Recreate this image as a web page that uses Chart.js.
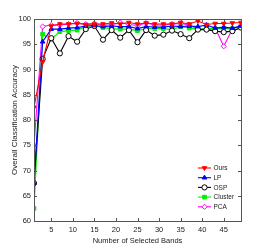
<!DOCTYPE html>
<html>
<head>
<meta charset="utf-8">
<script src="https://cdn.jsdelivr.net/npm/chart.js@4.4.1/dist/chart.umd.min.js"></script>
<style>
  html, body { margin: 0; padding: 0; background: #fff; }
  #wrap { width: 266px; height: 248px; }
</style>
</head>
<body>
<div id="wrap"><canvas id="myChart" width="266" height="248"></canvas></div>
<script>
(function () {
  "use strict";

  // number of selected bands (x)
  const bands = [1, 3, 5, 7, 9, 11, 13, 15, 17, 19, 21, 23, 25, 27, 29, 31, 33, 35, 37, 39, 41, 43, 45, 47, 49];
  const xTicks = [5, 10, 15, 20, 25, 30, 35, 40, 45];

  // overall classification accuracy per method
  const ours = [82.5, 91.5, 98.6, 99.0, 99.0, 99.1, 98.9, 99.0, 99.0, 99.2, 99.0, 99.3, 99.0, 99.2, 99.0, 99.0, 99.0, 99.3, 99.0, 99.6, 98.9, 99.1, 99.1, 99.2, 99.3];
  const lp = [67.5, 95.5, 98.0, 98.0, 98.2, 98.3, 98.6, 98.7, 98.5, 98.6, 98.5, 98.5, 98.1, 98.5, 98.4, 98.4, 98.6, 98.5, 98.6, 98.5, 98.8, 98.2, 98.4, 98.2, 98.6];
  const osp = [67.5, 92.1, 96.2, 93.2, 96.6, 95.5, 98.0, 98.6, 95.9, 97.8, 96.3, 97.8, 95.4, 97.8, 96.7, 96.9, 97.7, 97.0, 96.2, 97.9, 97.9, 97.6, 97.4, 97.6, 98.3];
  const cluster = [62.5, 97.0, 96.0, 97.5, 97.7, 97.8, 98.5, 98.7, 98.3, 98.1, 98.0, 98.0, 97.7, 98.1, 98.1, 98.1, 97.9, 98.5, 98.2, 98.0, 98.1, 98.1, 98.1, 98.1, 98.5];
  const pca = [75.0, 98.5, 98.8, 98.8, 99.0, 99.2, 99.0, 99.1, 98.8, 98.8, 99.3, 98.9, 98.7, 99.2, 98.8, 98.8, 99.0, 99.1, 98.8, 98.0, 98.0, 98.2, 94.6, 98.0, 98.8];

  const FONT = "'Liberation Sans', Arial, sans-serif";

  function pts(vals) {
    return vals.map(function (v, i) { return { x: bands[i], y: v }; });
  }

  function series(label, vals, color, style, fill, rot) {
    return {
      label: label,
      data: pts(vals),
      borderColor: color,
      backgroundColor: fill,
      pointBackgroundColor: fill,
      pointBorderColor: color,
      pointStyle: style,
      rotation: rot || 0,
      pointRadius: 2.6,
      pointBorderWidth: 1,
      borderWidth: 1.1,
      tension: 0,
    };
  }

  // box round the axes, inward ticks, legend inside the plot
  const framePlugin = {
    id: "frame",
    afterDraw: function (chart) {
      const ctx = chart.ctx;
      const a = chart.chartArea;
      const xs = chart.scales.x;
      const ys = chart.scales.y;
      ctx.save();
      ctx.strokeStyle = "#555";
      ctx.lineWidth = 1;
      ctx.strokeRect(a.left + 0.5, a.top + 0.5, a.right - a.left, a.bottom - a.top);
      ctx.beginPath();
      xTicks.forEach(function (t) {
        const px = Math.round(xs.getPixelForValue(t)) + 0.5;
        ctx.moveTo(px, a.bottom);
        ctx.lineTo(px, a.bottom - 3);
        ctx.moveTo(px, a.top);
        ctx.lineTo(px, a.top + 3);
      });
      for (let v = 60; v <= 100; v += 5) {
        const py = Math.round(ys.getPixelForValue(v)) + 0.5;
        ctx.moveTo(a.left, py);
        ctx.lineTo(a.left + 3, py);
        ctx.moveTo(a.right, py);
        ctx.lineTo(a.right - 3, py);
      }
      ctx.stroke();

      // legend
      ctx.font = "6.5px " + FONT;
      ctx.textBaseline = "middle";
      ctx.textAlign = "left";
      chart.data.datasets.forEach(function (ds, i) {
        const y = 168 + i * 9.7;
        ctx.strokeStyle = ds.borderColor;
        ctx.lineWidth = 1.1;
        ctx.beginPath();
        ctx.moveTo(198, y);
        ctx.lineTo(211, y);
        ctx.stroke();
        ctx.fillStyle = ds.pointBackgroundColor;
        ctx.lineWidth = 1;
        Chart.helpers.drawPoint(ctx, {
          pointStyle: ds.pointStyle,
          rotation: ds.rotation,
          radius: 2.6,
          borderWidth: 1,
        }, 204.5, y);
        ctx.fillStyle = "#222";
        ctx.fillText(ds.label, 213.5, y + 0.5);
      });
      ctx.restore();
    },
  };

  const ctx = document.getElementById("myChart").getContext("2d");
  const myChart = new Chart(ctx, {
    type: "line",
    data: {
      datasets: [
        series("Ours", ours, "#ff0000", "triangle", "#ff0000", 180),
        series("LP", lp, "#0000ff", "triangle", "#0000ff", 0),
        series("OSP", osp, "#000000", "circle", "#ffffff", 0),
        series("Cluster", cluster, "#00ee00", "rect", "#00ee00", 0),
        series("PCA", pca, "#ff00ff", "rectRot", "#ffffff", 0),
      ],
    },
    options: {
      responsive: false,
      animation: false,
      devicePixelRatio: 1,
      layout: { padding: { top: 19, right: 25, left: 6, bottom: 0 } },
      plugins: { legend: { display: false }, tooltip: { enabled: false } },
      scales: {
        x: {
          type: "linear",
          min: 1,
          max: 49,
          afterBuildTicks: function (scale) {
            scale.ticks = xTicks.map(function (v) { return { value: v }; });
          },
          afterFit: function (scale) { scale.height = 27; },
          grid: { display: false, drawTicks: false },
          border: { display: false },
          ticks: { color: "#222", font: { size: 7.5, family: FONT }, padding: 4, maxRotation: 0 },
          title: {
            display: true,
            text: "Number of Selected Bands",
            color: "#222",
            font: { size: 7.5, family: FONT },
            padding: { top: 0, bottom: 3 },
          },
        },
        y: {
          min: 60,
          max: 100,
          afterFit: function (scale) { scale.width = 28; },
          grid: { display: false, drawTicks: false },
          border: { display: false },
          ticks: { stepSize: 5, color: "#222", font: { size: 7.5, family: FONT }, padding: 3 },
          title: {
            display: true,
            text: "Overall Classification Accuracy",
            color: "#222",
            font: { size: 8, family: FONT },
            padding: { top: 4, bottom: 0 },
          },
        },
      },
    },
    plugins: [framePlugin],
  });
})();
</script>
</body>
</html>
